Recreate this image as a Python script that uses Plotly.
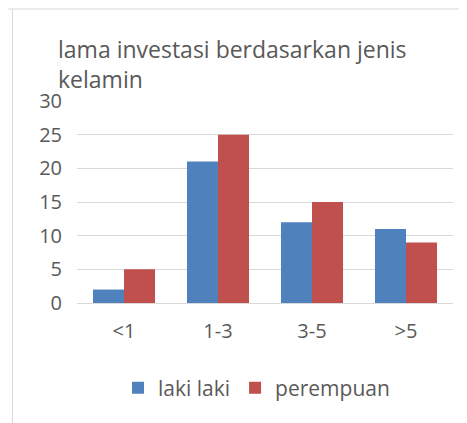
import plotly.graph_objects as go

categories = ["<1", "1-3", "3-5", ">5"]
laki_laki = [2, 21, 12, 11]
perempuan = [5, 25, 15, 9]
series_names = ["laki laki", "perempuan"]
title_text = "lama investasi berdasarkan jenis<br>kelamin"

FONT = "Open Sans, Liberation Sans, sans-serif"
GRAY = "#595959"
W, H = 459, 415
L, R, T, B = 69, 14, 93, 120
PW, PH = W - L - R, H - T - B

fig = go.Figure()
fig.add_trace(go.Bar(x=categories, y=laki_laki, name=series_names[0],
                     marker=dict(color="#4F81BD", line=dict(width=0))))
fig.add_trace(go.Bar(x=categories, y=perempuan, name=series_names[1],
                     marker=dict(color="#C0504D", line=dict(width=0))))

fig.update_layout(
    width=W, height=H,
    margin=dict(l=L, r=R, t=T, b=B, autoexpand=False),
    paper_bgcolor="white", plot_bgcolor="white",
    barmode="group", bargap=0.34, bargroupgap=0,
    font=dict(family=FONT, color=GRAY, size=20),
    title=dict(text=title_text, x=50/W, xanchor="left", xref="container",
               y=1 - 50/H, yanchor="top", yref="container",
               font=dict(family=FONT, size=23, color=GRAY)),
    legend=dict(orientation="h", x=110/W, xanchor="left", xref="container",
                y=1 - 380/H, yanchor="middle", yref="container",
                font=dict(size=21, color=GRAY), itemwidth=30,
                traceorder="normal"),
    showlegend=True,
    shapes=[
        dict(type="line", xref="paper", yref="paper", x0=-L/PW, x1=1 + R/PW,
             y0=1 + (T - 1)/PH, y1=1 + (T - 1)/PH,
             line=dict(color="#D9D9D9", width=1)),
        dict(type="line", xref="paper", yref="paper", x0=-(L - 4.5)/PW, x1=-(L - 4.5)/PW,
             y0=1 + (T - 1)/PH, y1=-B/PH,
             line=dict(color="#D9D9D9", width=1)),
    ],
)
fig.update_xaxes(showgrid=False, showline=True, linecolor="#D9D9D9", linewidth=1,
                 ticks="", tickfont=dict(size=20, color=GRAY), ticklabelstandoff=10)
fig.update_yaxes(range=[0, 30], dtick=5, showgrid=True, gridcolor="#D9D9D9", gridwidth=1,
                 zeroline=False, showline=False, ticks="",
                 tickfont=dict(size=20, color=GRAY), ticklabelstandoff=14)

fig.write_html("out.html")
